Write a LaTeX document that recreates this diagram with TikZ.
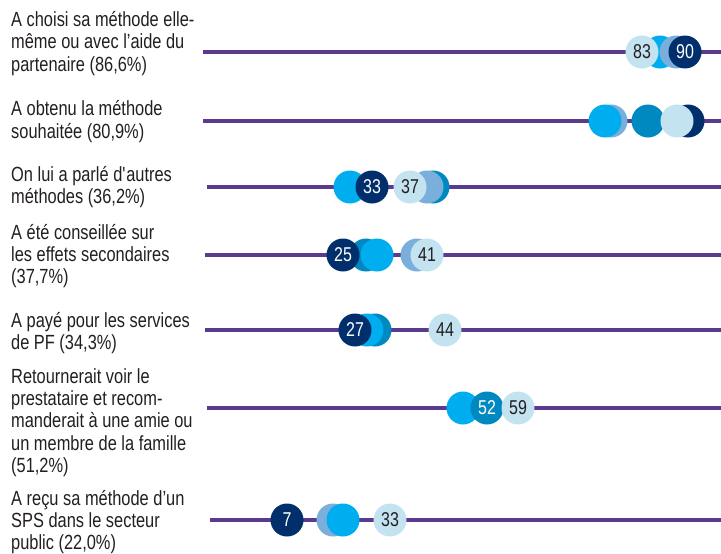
\documentclass[tikz,border=0pt]{standalone}
\usepackage{fontspec}
\setmainfont[FakeStretch=0.8]{Liberation Sans}
\definecolor{barpurple}{HTML}{5A3A8C}
\definecolor{cLight}{HTML}{C3E3F0}
\definecolor{cCyan}{HTML}{00AEEF}
\definecolor{cMid}{HTML}{0088C0}
\definecolor{cSteel}{HTML}{7BAFDB}
\definecolor{cNavy}{HTML}{002F6C}
\definecolor{txt}{HTML}{231F20}
\begin{document}
\begin{tikzpicture}[x=1pt,y=-1pt,
  bar/.style={draw=barpurple, line width=4pt},
  dot/.style={circle, minimum size=33pt, inner sep=0pt, font=\fontsize{20}{20}\selectfont},
  wdot/.style={dot, text=white},
  kdot/.style={dot, text=txt},
  lbl/.style={anchor=west, align=left, inner sep=0pt, text=txt, font=\fontsize{20.5}{22.2}\selectfont}]
\useasboundingbox (0,0) rectangle (721,554);
% labels
\node[lbl] (l1) at (11,43.5) {A choisi sa méthode elle-\\même ou avec l’aide du\\partenaire (86,6\%)};
\node[lbl] (l2) at (11,121.5) {A obtenu la méthode\\souhaitée (80,9\%)};
\node[lbl] (l3) at (11,187) {On lui a parlé d\textquotesingle autres\\méthodes (36,2\%)};
\node[lbl] (l4) at (11,256) {A été conseillée sur\\les effets secondaires\\(37,7\%)};
\node[lbl] (l5) at (11,333) {A payé pour les services\\de PF (34,3\%)};
\node[lbl] (l6) at (11,422.5) {Retournerait voir le\\prestataire et recom-\\manderait à une amie ou\\un membre de la famille\\(51,2\%)};
\node[lbl] (l7) at (11,522) {A reçu sa méthode d’un\\SPS dans le secteur\\public (22,0\%)};
% bars
\coordinate (s1) at (203,52);  \coordinate (e1) at (721,52);
\coordinate (s2) at (203,121); \coordinate (e2) at (721,121);
\coordinate (s3) at (207,187); \coordinate (e3) at (721,187);
\coordinate (s4) at (205,255); \coordinate (e4) at (721,255);
\coordinate (s5) at (205,330); \coordinate (e5) at (721,330);
\coordinate (s6) at (207,408); \coordinate (e6) at (721,408);
\coordinate (s7) at (210,520); \coordinate (e7) at (721,520);
\foreach \i in {1,...,7} {\draw[bar] (s\i) -- (e\i);}
% row 1
\node[dot, fill=cCyan] (r1c) at (660,52) {};
\node[kdot, fill=cLight] (r1l) at (642,52) {83};
\node[dot, fill=cSteel] (r1s) at (676,52) {};
\node[wdot, fill=cNavy] (r1n) at (685,52) {90};
% row 2
\node[dot, fill=cSteel] (r2s) at (611,121) {};
\node[dot, fill=cCyan] (r2c) at (605,121) {};
\node[dot, fill=cNavy] (r2n) at (688,121) {};
\node[dot, fill=cMid] (r2m) at (648,121) {};
\node[dot, fill=cLight] (r2l) at (677,121) {};
% row 3
\node[dot, fill=cCyan] (r3c) at (350,187) {};
\node[wdot, fill=cNavy] (r3n) at (372,187) {33};
\node[dot, fill=cMid] (r3m) at (433,187) {};
\node[dot, fill=cSteel] (r3s) at (427,187) {};
\node[kdot, fill=cLight] (r3l) at (410,187) {37};
% row 4
\node[dot, fill=cMid] (r4m) at (366,255) {};
\node[dot, fill=cCyan] (r4c) at (377,255) {};
\node[wdot, fill=cNavy] (r4n) at (343,255) {25};
\node[dot, fill=cSteel] (r4s) at (417,255) {};
\node[kdot, fill=cLight] (r4l) at (427,255) {41};
% row 5
\node[dot, fill=cMid] (r5m) at (375,330) {};
\node[dot, fill=cCyan] (r5c) at (367,330) {};
\node[wdot, fill=cNavy] (r5n) at (355,330) {27};
\node[kdot, fill=cLight] (r5l) at (445,330) {44};
% row 6
\node[dot, fill=cCyan] (r6c) at (463,408) {};
\node[wdot, fill=cMid] (r6m) at (487,408) {52};
\node[kdot, fill=cLight] (r6l) at (518,408) {59};
% row 7
\node[wdot, fill=cNavy] (r7n) at (287,520) {7};
\node[dot, fill=cSteel] (r7s) at (333,520) {};
\node[dot, fill=cCyan] (r7c) at (343,520) {};
\node[kdot, fill=cLight] (r7l) at (390,520) {33};
\end{tikzpicture}
\end{document}
